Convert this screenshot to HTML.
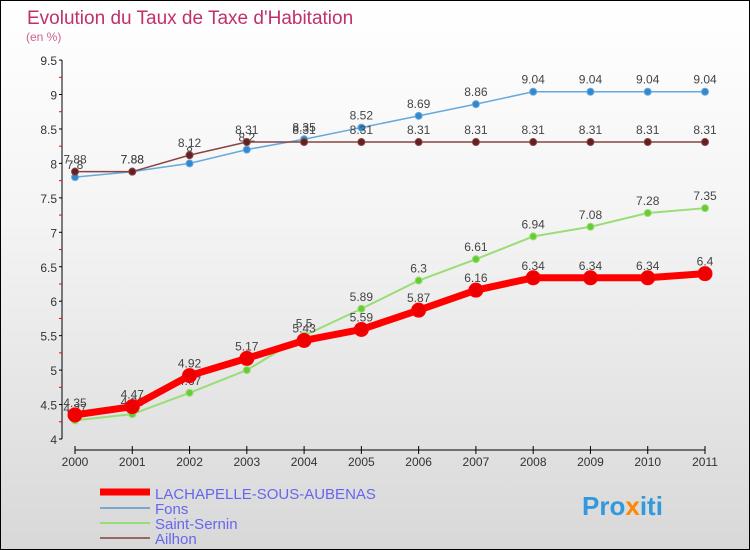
<!DOCTYPE html>
<html><head><meta charset="utf-8"><style>
body{margin:0;width:750px;height:550px;overflow:hidden;font-family:"Liberation Sans",sans-serif}
#c{position:absolute;left:0;top:0;width:748px;height:548px;border:1px solid #000;background:linear-gradient(#ffffff,#f4f4f4 40%,#d8d8d8)}
</style></head><body>
<div id="c">
<svg id="s" width="750" height="550" style="position:absolute;left:-1px;top:-1px" font-family="Liberation Sans, sans-serif">
<text x="27" y="24" font-size="19" fill="#c0306a">Evolution du Taux de Taxe d'Habitation</text>
<text x="26" y="41" font-size="12" fill="#d06090">(en %)</text>
<g id="ax"></g><g id="series"></g>
<g>
<line x1="100" x2="150" y1="492" y2="492" stroke="#f00" stroke-width="7"/>
<text x="155" y="499" font-size="15" fill="#6666ee">LACHAPELLE-SOUS-AUBENAS</text>
<line x1="100" x2="150" y1="508" y2="508" stroke="#7aa8cc" stroke-width="2"/>
<text x="155" y="514" font-size="15" fill="#6666ee">Fons</text>
<line x1="100" x2="150" y1="523" y2="523" stroke="#99dd77" stroke-width="2"/>
<text x="155" y="529" font-size="15" fill="#6666ee">Saint-Sernin</text>
<line x1="100" x2="150" y1="538" y2="538" stroke="#996666" stroke-width="2"/>
<text x="155" y="544" font-size="15" fill="#6666ee">Ailhon</text>
</g>
<text x="582" y="515" font-size="26" font-weight="bold" fill="#3399dd">Pro<tspan fill="#ff8800">x</tspan>iti</text>
</svg></div>
<script>
const years=[2000,2001,2002,2003,2004,2005,2006,2007,2008,2009,2010,2011];
const lachapelle=[4.35,4.47,4.92,5.17,5.43,5.59,5.87,6.16,6.34,6.34,6.34,6.4];
const fons=[7.8,7.88,8,8.2,8.35,8.52,8.69,8.86,9.04,9.04,9.04,9.04];
const saintSernin=[4.27,4.36,4.67,5,5.5,5.89,6.3,6.61,6.94,7.08,7.28,7.35];
const ailhon=[7.88,7.88,8.12,8.31,8.31,8.31,8.31,8.31,8.31,8.31,8.31,8.31];
const yTicks=[4,4.5,5,5.5,6,6.5,7,7.5,8,8.5,9,9.5];
const NS="http://www.w3.org/2000/svg";
const xs=i=>75+i*(630/(years.length-1));
const ys=v=>439-(v-4)*68.9;
function mk(p,t,a){const e=document.createElementNS(NS,t);for(const k in a)e.setAttribute(k,a[k]);p.appendChild(e);return e;}
const ax=document.getElementById('ax');
const yl=mk(ax,'line',{x1:62,x2:62,y1:60,y2:439,stroke:'#000'});


const xl=mk(ax,'line',{x1:75,x2:705,y1:450,y2:450,stroke:'#000'});


yTicks.forEach(v=>{
  mk(ax,'line',{x1:59,x2:62,y1:ys(v),y2:ys(v),stroke:'#000'});
  mk(ax,'line',{x1:59,x2:62,y1:ys(v+0.25),y2:ys(v+0.25),stroke:'#f00'}).style.display=v<9.5?'':'none';
  const t=mk(ax,'text',{x:57,y:ys(v)+5,'text-anchor':'end','font-size':12,fill:'#333'});
  t.textContent=v;
  
  
});
years.forEach((y,i)=>{
  mk(ax,'line',{x1:xs(i),x2:xs(i),y1:446,y2:454,stroke:'#000'});
  const t=mk(ax,'text',{x:xs(i),y:466,'text-anchor':'middle','font-size':12,fill:'#333'});
  t.textContent=y;
  
  
});
const sg=document.getElementById('series');
function draw(vals,color,w,r,dot,name){
  const g=mk(sg,'g',{});
  
  
  mk(g,'polyline',{points:vals.map((v,i)=>xs(i)+','+ys(v)).join(' '),fill:'none',stroke:color,'stroke-width':w,'stroke-linejoin':'round'});
  vals.forEach((v,i)=>{
    const c=mk(g,'circle',{cx:xs(i),cy:ys(v),r:r,fill:dot,stroke:color,'stroke-width':1});
    
    
    const t=mk(g,'text',{x:xs(i),y:ys(v)-8,'text-anchor':'middle','font-size':12,fill:'#444'});
    t.textContent=v;
    
    
  });
}
draw(saintSernin,'#99dd77',2,3.5,'#66cc33','saint-sernin');
draw(fons,'#66aadd',1.5,3.5,'#3388cc','fons');
draw(ailhon,'#884444',1.5,3.5,'#661f1f','ailhon');
draw(lachapelle,'#f00',7,7,'#e00','lachapelle');
</script>
</body></html>
